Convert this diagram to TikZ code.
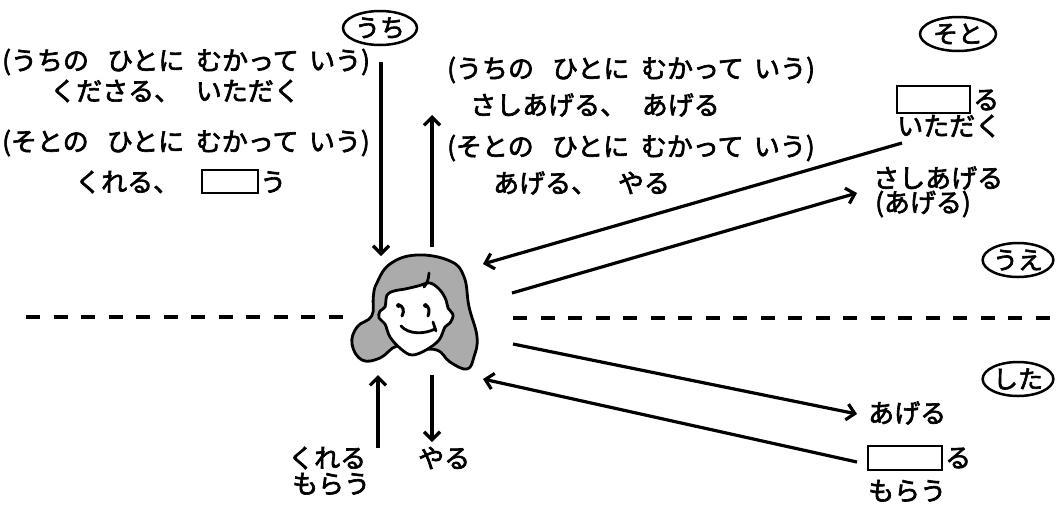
\documentclass[tikz,border=0pt]{standalone}
\usepackage{fontspec}
\newfontfamily\jp{Noto Sans CJK JP}[FakeBold=2.5]
\usetikzlibrary{arrows.meta,shapes.geometric}
\begin{document}
\begin{tikzpicture}[x=1pt,y=-1pt,
  txt/.style={font=\jp\fontsize{26}{28}\selectfont, inner sep=0pt, anchor=west},
  tag/.style={ellipse, draw, line width=2.5pt, minimum width=74pt, minimum height=34pt,
    inner sep=0pt, font=\jp\fontsize{25}{27}\selectfont},
  blank/.style={draw, line width=2.5pt, inner sep=0pt},
  conn/.style={line width=3.2pt, -{Straight Barb[length=8pt,width=16pt]}},
  guide/.style={line width=3.2pt, dash pattern=on 14pt off 13.5pt}]
\useasboundingbox (0,0) rectangle (1056,504);

% --- circled tags ---
\node[tag] (uchi) at (380,28) {うち};
\node[tag, minimum width=76pt] (soto) at (958,34) {そと};
\node[tag, minimum width=70pt] (ue) at (1018,260) {うえ};
\node[tag, minimum width=70pt] (shita) at (1018,379) {した};

% --- left block ---
\node[txt] (l1) at (2,62) {(うちの\hspace{0.7em}ひとに\hspace{0.45em}むかって\hspace{0.4em}いう)};
\node[txt] (l2) at (50,91) {くださる、\hspace{0.6em}いただく};
\node[txt] (l3) at (2,143) {(そとの\hspace{0.7em}ひとに\hspace{0.45em}むかって\hspace{0.4em}いう)};
\node[txt] (l4) at (75,182) {くれる、};
\node[blank, minimum width=56pt, minimum height=23pt] (l4box) at (230,181.5) {};
\node[txt] (l4u) at (260,182) {う};

% --- middle block ---
\node[txt] (m1) at (447,70) {(うちの\hspace{0.7em}ひとに\hspace{0.45em}むかって\hspace{0.4em}いう)};
\node[txt] (m2) at (470,105) {さしあげる、\hspace{0.6em}あげる};
\node[txt] (m3) at (447,148) {(そとの\hspace{0.7em}ひとに\hspace{0.45em}むかって\hspace{0.4em}いう)};
\node[txt] (m4) at (493,183) {あげる、\hspace{0.8em}やる};

% --- right block ---
\node[blank, minimum width=73pt, minimum height=27pt] (rbox1) at (933.5,99.5) {};
\node[txt] (rru1) at (973,100) {る};
\node[txt] (ritadaku) at (897,126) {いただく};
\node[txt] (rsashi) at (873,178) {さしあげる};
\node[txt] (rageru1) at (875,204) {(あげる)};
\node[txt] (rageru2) at (868,413) {あげる};
\node[blank, minimum width=74pt, minimum height=24pt] (rbox2) at (905,458) {};
\node[txt] (rru2) at (945,458) {る};
\node[txt] (rmorau) at (868,491) {もらう};

% --- bottom block ---
\node[txt] (bkureru) at (288,458) {くれる};
\node[txt] (bmorau) at (292,484) {もらう};
\node[txt] (byaru) at (418,458) {やる};

% --- the person ---
\begin{scope}[line width=2.8pt, line join=round, line cap=round]
  \draw[fill=black!33] plot[smooth cycle, tension=0.7] coordinates {
    (376.7,283.3) (390,264) (416.7,255) (450,261) (464,276.7) (469,306.7)
    (477,336.7) (474,356.7) (467,369) (450,362) (436.7,350)
    (413.3,350) (396.7,346) (380,358) (362,360) (352,344)
    (357,327) (371.7,316) (373.3,296.7)};
  \draw[fill=white] plot[smooth cycle, tension=0.6] coordinates {
    (387,295) (385,307) (380,311) (379,318) (385,324) (390,337) (401,349)
    (412,355) (426,350) (439,340) (445,327) (450,323) (453,315) (448,308)
    (446,300) (440,290) (430,283) (418,286) (405,289) (394,291)};
  % fringe curl
  \draw (424,287) .. controls (428,281) .. (429,273);
  % eyes
  \draw[line width=3pt] (398,305) .. controls (403,305) and (405,311) .. (402,316);
  \fill (398.5,305.5) circle (2.4pt);
  \draw[line width=3pt] (425,305) .. controls (429,306) and (430,311) .. (428,316);
  \fill (425.5,305.5) circle (2.4pt);
  % smile
  \draw (401,326) .. controls (409,335) and (425,334) .. (435,329);
  \draw (433,322) -- (436,331);
\end{scope}

% --- connector end points ---
\coordinate (uchiTop) at (381,62);
\coordinate (uchiBot) at (381,256);
\coordinate (upA) at (432,247);
\coordinate (upB) at (432,115);
\coordinate (itaFrom) at (902,143);
\coordinate (itaTo) at (483,264);
\coordinate (sashiFrom) at (512,293);
\coordinate (sashiTo) at (857,193);
\coordinate (ageFrom) at (513,344);
\coordinate (ageTo) at (857,414);
\coordinate (moraFrom) at (857,462);
\coordinate (moraTo) at (483,379);
\coordinate (kureFrom) at (378,448);
\coordinate (kureTo) at (378,375);
\coordinate (yaruFrom) at (432,375);
\coordinate (yaruTo) at (432,442);

\draw[conn] (uchiTop) -- (uchiBot);
\draw[conn] (upA) -- (upB);
\draw[conn] (itaFrom) -- (itaTo);
\draw[conn] (sashiFrom) -- (sashiTo);
\draw[conn] (ageFrom) -- (ageTo);
\draw[conn] (moraFrom) -- (moraTo);
\draw[conn] (kureFrom) -- (kureTo);
\draw[conn] (yaruFrom) -- (yaruTo);

% --- dividing line ---
\coordinate (dl1) at (26,317);
\coordinate (dl2) at (345,317);
\coordinate (dr1) at (513,318);
\coordinate (dr2) at (1053,318);
\draw[guide] (dl1) -- (dl2);
\draw[guide] (dr1) -- (dr2);
\end{tikzpicture}
\end{document}
